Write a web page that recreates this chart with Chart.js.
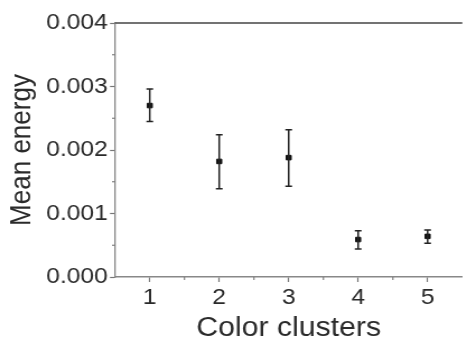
<!DOCTYPE html>
<html><head><meta charset="utf-8">
<script src="https://cdn.jsdelivr.net/npm/chart.js@4/dist/chart.umd.min.js"></script>
<style>
html,body{margin:0;padding:0;background:#fff;overflow:hidden;width:465px;height:342px;}
#wrap{width:417px;height:342px;position:relative;transform:scaleX(1.12);transform-origin:0 0;}
</style></head><body>
<div id="wrap"><canvas id="c"></canvas></div>
<script>
const categories = [1, 2, 3, 4, 5];
const meanEnergy = [0.00270, 0.00182, 0.00188, 0.00059, 0.00064];
const errUpper = [0.00296, 0.00224, 0.00232, 0.00073, 0.00074];
const errLower = [0.00245, 0.00139, 0.00143, 0.00044, 0.00053];
const yTickLabels = ['0.000', '0.001', '0.002', '0.003', '0.004'];
const xTickLabels = ['1', '2', '3', '4', '5'];

const FONT = "'Liberation Sans', Arial, sans-serif";

const extras = {
  id: 'extras',
  afterDatasetsDraw(chart) {
    const ctx = chart.ctx, xs = chart.scales.x, ys = chart.scales.y, a = chart.chartArea;
    ctx.save();
    // error bars
    ctx.strokeStyle = '#222'; ctx.lineWidth = 1.5;
    categories.forEach((c, i) => {
      const x = xs.getPixelForValue(c);
      const yt = ys.getPixelForValue(errUpper[i]);
      const yb = ys.getPixelForValue(errLower[i]);
      ctx.beginPath();
      ctx.moveTo(x, yt); ctx.lineTo(x, yb);
      ctx.moveTo(x - 3, yt); ctx.lineTo(x + 3, yt);
      ctx.moveTo(x - 3, yb); ctx.lineTo(x + 3, yb);
      ctx.stroke();
    });
    // top frame
    ctx.strokeStyle = '#444'; ctx.lineWidth = 1.6;
    ctx.beginPath(); ctx.moveTo(a.left, a.top); ctx.lineTo(a.right, a.top); ctx.stroke();
    // minor ticks
    ctx.strokeStyle = '#777'; ctx.lineWidth = 1.1;
    for (let v = 0.0005; v < 0.004; v += 0.001) {
      const y = ys.getPixelForValue(v);
      ctx.beginPath(); ctx.moveTo(a.left - 2.7, y); ctx.lineTo(a.left, y); ctx.stroke();
    }
    for (let v = 1.5; v < 5.5; v += 1) {
      const x = xs.getPixelForValue(v);
      ctx.beginPath(); ctx.moveTo(x, a.bottom); ctx.lineTo(x, a.bottom + 3); ctx.stroke();
    }
    ctx.restore();
  }
};

new Chart(document.getElementById('c'), {
  type: 'scatter',
  data: {
    datasets: [{
      data: categories.map((c, i) => ({x: c, y: meanEnergy[i]})),
      backgroundColor: '#111', borderColor: '#111',
      pointStyle: 'rect', pointRadius: 3.2, pointHoverRadius: 3.2
    }]
  },
  options: {
    responsive: true, maintainAspectRatio: false, animation: false,
    layout: {padding: {top: 23, right: 1, left: 0, bottom: 0}},
    plugins: {legend: {display: false}, tooltip: {enabled: false}},
    scales: {
      x: {
        type: 'linear', min: 0.5, max: 5.5,
        afterBuildTicks(s) { s.ticks = categories.map(v => ({value: v})); },
        afterFit(s) { s.height = 65; },
        ticks: {
          callback: (v) => xTickLabels[categories.indexOf(v)] ?? '',
          font: {family: FONT, size: 22}, color: '#2a2a2a', padding: 3, maxRotation: 0
        },
        grid: {drawOnChartArea: false, drawTicks: true, tickLength: 5, tickColor: '#777', tickWidth: 1.2},
        border: {color: '#888', width: 1.4},
        title: {display: true, text: 'Color clusters', font: {family: FONT, size: 27, lineHeight: 1}, color: '#2a2a2a', padding: {top: 0, bottom: 0}}
      },
      y: {
        min: 0, max: 0.004,
        afterBuildTicks(s) { s.ticks = yTickLabels.map((t, i) => ({value: i * 0.001})); },
        afterFit(s) { s.width = 102.7; },
        ticks: {
          callback: (v, i) => yTickLabels[i],
          font: {family: FONT, size: 22}, color: '#2a2a2a', padding: 2
        },
        grid: {drawOnChartArea: false, drawTicks: true, tickLength: 4.5, tickColor: '#777', tickWidth: 1.2},
        border: {color: '#888', width: 1.3},
        title: {display: true, text: 'Mean energy', font: {family: FONT, size: 26, lineHeight: 1}, color: '#2a2a2a', padding: {top: 6.5, bottom: 0}}
      }
    }
  },
  plugins: [extras]
});
</script>
</body></html>
